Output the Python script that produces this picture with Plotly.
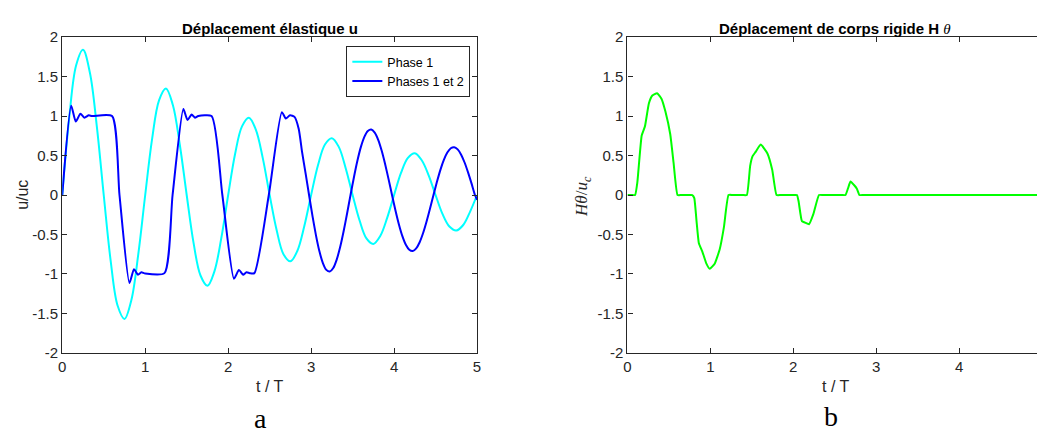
import plotly.graph_objects as go

# ---------------- data ----------------
# Phase 1 (cyan): sampled every T/12
t_phase1 = [k / 12 for k in range(61)]
u_phase1 = [0, 0.97, 1.64, 1.84, 1.55, 0.87, 0, -0.83, -1.40, -1.57, -1.33, -0.75,
            0, 0.71, 1.20, 1.35, 1.14, 0.64, 0, -0.61, -1.02, -1.15, -0.97, -0.55,
            0, 0.52, 0.87, 0.98, 0.83, 0.47, 0, -0.44, -0.75, -0.84, -0.71, -0.40,
            0, 0.38, 0.64, 0.72, 0.61, 0.34, 0, -0.32, -0.55, -0.62, -0.52, -0.29,
            0, 0.28, 0.47, 0.53, 0.44, 0.25, 0, -0.24, -0.40, -0.45, -0.38, -0.21, 0]

# Phases 1 et 2 (blue): impact phase (read point by point)
t_phase12_a = [0, 0.108, 0.163, 0.219, 0.267, 0.32, 0.36, 0.60, 0.69, 0.81,
               0.865, 0.913, 0.953, 1.0, 1.232, 1.33, 1.46, 1.51, 1.56, 1.60,
               1.64, 1.80, 1.93, 2.07, 2.13, 2.18, 2.22, 2.26, 2.316, 2.49,
               2.647, 2.695, 2.746, 2.80, 2.85]
u_phase12_a = [0, 1.13, 0.93, 1.03, 0.98, 1.01, 1.0, 1.0, 0.0, -1.115,
               -0.94, -1.01, -0.98, -0.995, -0.99, 0.0, 1.09, 0.95, 1.02, 0.98,
               1.0, 1.0, 0.0, -1.06, -0.95, -1.01, -0.98, -0.99, -0.99, 0.0,
               1.05, 0.97, 1.01, 0.99, 0.84]
# free vibration part, sampled every T/24 from t = 2.892
t_phase12_b = [round(2.8917 + k / 24, 4) for k in range(51)] + [5.0]
u_phase12_b = [0.54, 0.275, 0.0, -0.268, -0.511, -0.714, -0.862, -0.949, -0.97,
               -0.925, -0.818, -0.660, -0.460, -0.235, 0.0, 0.229, 0.437, 0.610,
               0.737, 0.811, 0.829, 0.790, 0.700, 0.564, 0.393, 0.201, 0.0,
               -0.196, -0.373, -0.521, -0.630, -0.693, -0.709, -0.676, -0.598,
               -0.482, -0.336, -0.172, 0.0, 0.167, 0.319, 0.445, 0.538, 0.593,
               0.606, 0.578, 0.511, 0.412, 0.287, 0.147, 0.0, -0.06]
t_phase12 = t_phase12_a + t_phase12_b
u_phase12 = u_phase12_a + u_phase12_b

# Rigid body displacement H theta / uc (green)
t_rigid = [0, 0.05, 0.092, 0.119, 0.171, 0.211, 0.258, 0.30, 0.357, 0.41, 0.457, 0.516, 0.556, 0.604,
           0.65, 0.74, 0.782, 0.806, 0.833, 0.861, 0.901, 0.952, 0.992, 1.052, 1.112, 1.163, 1.219,
           1.27, 1.39, 1.44, 1.48, 1.508, 1.548, 1.607, 1.687, 1.746, 1.798,
           1.85, 2.0, 2.044, 2.064, 2.104, 2.143, 2.19, 2.243, 2.31,
           2.36, 2.58, 2.63, 2.659, 2.69, 2.738, 2.767, 2.798, 2.85, 3.5, 4.2, 5.0]
h_rigid = [0, 0, 0, 0.16, 0.75, 0.87, 1.16, 1.26, 1.29, 1.22, 1.06, 0.77, 0.41, 0,
           0, 0, 0, -0.04, -0.33, -0.61, -0.71, -0.87, -0.935, -0.87, -0.69, -0.41, 0,
           0, 0, 0, 0.37, 0.49, 0.55, 0.64, 0.53, 0.32, 0,
           0, 0, 0, -0.08, -0.33, -0.35, -0.37, -0.24, 0,
           0, 0, 0, 0.08, 0.17, 0.12, 0.08, 0, 0, 0, 0, 0]

y_tickvals = [-2, -1.5, -1, -0.5, 0, 0.5, 1, 1.5, 2]
y_ticktext = ["-2", "-1.5", "-1", "-0.5", "0", "0.5", "1", "1.5", "2"]
x_tickvals = [0, 1, 2, 3, 4, 5]
x_ticktext = ["0", "1", "2", "3", "4", "5"]

# ---------------- figure ----------------
W, H = 1041, 439
AX = "#262626"
FONT = "Liberation Sans, Arial, sans-serif"
SERIF = "Liberation Serif, Times New Roman, serif"

fig = go.Figure()
fig.add_trace(go.Scatter(x=t_phase1, y=u_phase1, mode="lines", name="Phase 1",
                         line=dict(color="#00FFFF", width=2, shape="spline", smoothing=1.0),
                         xaxis="x", yaxis="y"))
fig.add_trace(go.Scatter(x=t_phase12, y=u_phase12, mode="lines", name="Phases 1 et 2",
                         line=dict(color="#0000FF", width=2, shape="spline", smoothing=0.6),
                         xaxis="x", yaxis="y"))
fig.add_trace(go.Scatter(x=t_rigid, y=h_rigid, mode="lines", showlegend=False,
                         line=dict(color="#00FF00", width=2, shape="spline", smoothing=0.4),
                         xaxis="x2", yaxis="y2"))

def px_x(p):
    return p / W

def px_y(p):
    return 1 - p / H

ydom = [px_y(357.7), px_y(29.3)]
common_axis = dict(showgrid=False, zeroline=False, showline=True, linecolor=AX, linewidth=1.3,
                   ticks="inside", ticklen=5, tickwidth=1.2, tickcolor=AX,
                   tickfont=dict(family=FONT, size=15, color=AX))

fig.update_layout(
    width=W, height=H, autosize=False,
    margin=dict(l=0, r=0, t=0, b=0, pad=0),
    paper_bgcolor="white", plot_bgcolor="white",
    xaxis=dict(domain=[px_x(58.7), px_x(476.7)], range=[0, 5], anchor="y",
               tickvals=x_tickvals, ticktext=x_ticktext, mirror="ticks", **common_axis),
    yaxis=dict(domain=ydom, range=[-2, 2], anchor="x",
               tickvals=y_tickvals, ticktext=y_ticktext, mirror="ticks", **common_axis),
    xaxis2=dict(domain=[px_x(628.3), 1.0], range=[0, 4.94], anchor="y2",
                tickvals=x_tickvals, ticktext=x_ticktext, mirror="ticks", **common_axis),
    yaxis2=dict(domain=ydom, range=[-2, 2], anchor="x2",
                tickvals=y_tickvals, ticktext=y_ticktext, mirror=False, **common_axis),
    legend=dict(x=px_x(345), y=px_y(38.5), xanchor="left", yanchor="top",
                bordercolor=AX, borderwidth=1, bgcolor="white",
                font=dict(family=FONT, size=12.5, color="black"),
                tracegroupgap=0, itemwidth=30),
    showlegend=True,
)

ann = []
# titles
ann.append(dict(text="<b>Déplacement élastique u</b>", x=px_x(267.7), y=px_y(20),
                xref="paper", yref="paper", showarrow=False, xanchor="center", yanchor="middle",
                font=dict(family=FONT, size=15, color="black")))
ann.append(dict(text="<b>Déplacement de corps rigide H </b><span style=\"font-family:Liberation Serif\"><i>θ</i></span>",
                x=px_x(837.5), y=px_y(20),
                xref="paper", yref="paper", showarrow=False, xanchor="center", yanchor="middle",
                font=dict(family=FONT, size=15, color="black")))
# x labels
ann.append(dict(text="t / T", x=px_x(267.7), y=px_y(393), xref="paper", yref="paper",
                showarrow=False, xanchor="center", yanchor="middle",
                font=dict(family=FONT, size=16, color=AX)))
ann.append(dict(text="t / T", x=px_x(837.5), y=px_y(393), xref="paper", yref="paper",
                showarrow=False, xanchor="center", yanchor="middle",
                font=dict(family=FONT, size=16, color=AX)))
# y labels
ann.append(dict(text="u/uc", x=px_x(18), y=px_y(193.5), xref="paper", yref="paper",
                showarrow=False, textangle=-90, xanchor="center", yanchor="middle",
                font=dict(family=FONT, size=16, color=AX)))
ann.append(dict(text="<i>Hθ</i>/<i>u</i><sub><i>c</i></sub>", x=px_x(584), y=px_y(195),
                xref="paper", yref="paper",
                showarrow=False, textangle=-90, xanchor="center", yanchor="middle",
                font=dict(family=SERIF, size=17, color=AX)))
# panel letters
ann.append(dict(text="a", x=px_x(258), y=px_y(426), xref="paper", yref="paper",
                showarrow=False, xanchor="center", yanchor="middle",
                font=dict(family=SERIF, size=28, color="black")))
ann.append(dict(text="b", x=px_x(833), y=px_y(424), xref="paper", yref="paper",
                showarrow=False, xanchor="center", yanchor="middle",
                font=dict(family=SERIF, size=28, color="black")))
fig.update_layout(annotations=ann)

post = (
    "var de=document.documentElement, b=document.body;"
    "[de,b].forEach(function(e){e.style.margin='0';e.style.padding='0';"
    "e.style.overflow='hidden';e.style.height='439px';e.style.width='1041px';});"
    "var gd=document.getElementById('{plot_id}');"
    "var w=gd.parentNode; w.style.position='fixed'; w.style.top='0'; w.style.left='0';"
    "w.style.margin='0'; w.style.width='1041px'; w.style.height='439px'; w.style.overflow='hidden';"
)

fig.write_html("out.html", config={"displayModeBar": False, "responsive": False},
               post_script=post)
